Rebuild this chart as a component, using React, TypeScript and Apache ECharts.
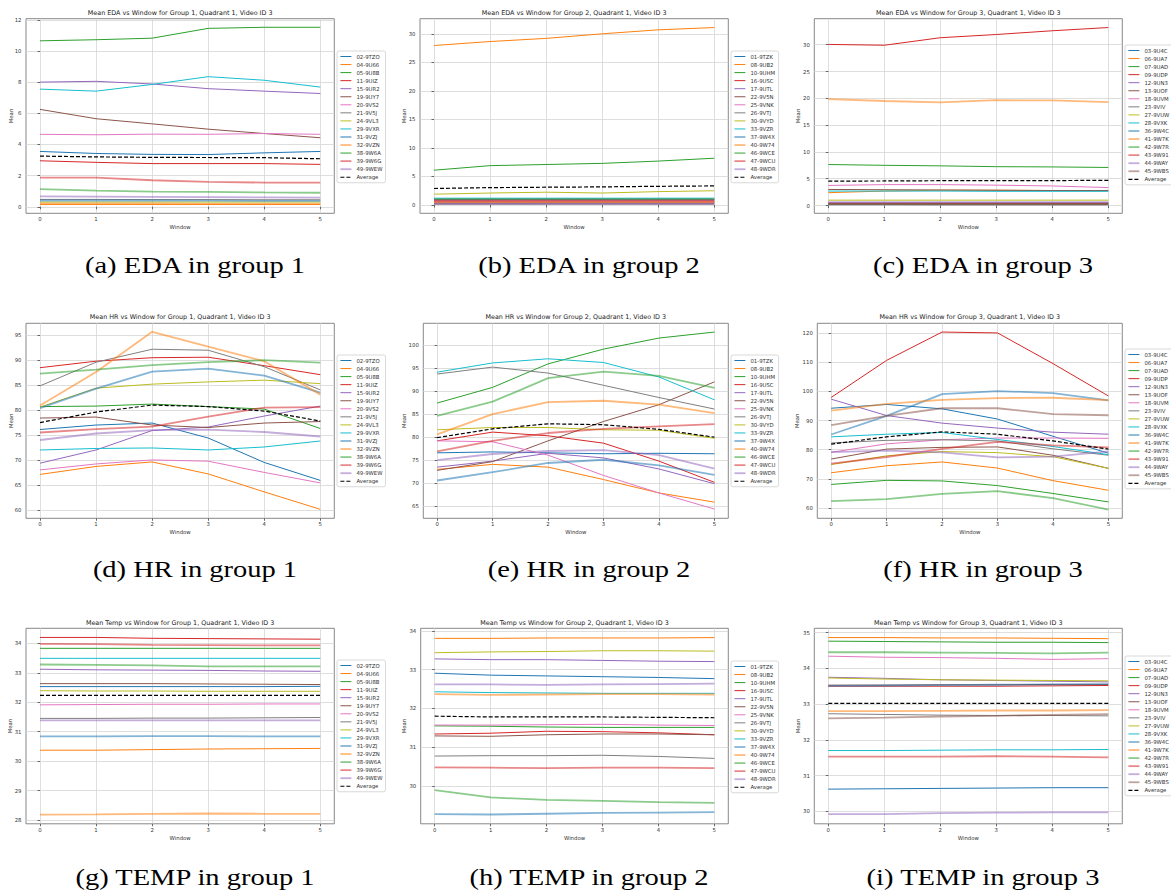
import React, { useEffect, useRef } from "react";
import * as echarts from "echarts";

const windows = [0, 1, 2, 3, 4, 5];

const group1Ids = ["02-9TZO", "04-9U66", "05-9U8B", "11-9UIZ", "15-9UR2", "19-9UY7", "20-9VS2", "21-9V5J", "24-9VL3", "29-9VXR", "31-9VZJ", "32-9VZN", "38-9W6A", "39-9W6G", "49-9WEW"];
const group2Ids = ["01-9TZK", "08-9UB2", "10-9UHM", "16-9USC", "17-9UTL", "22-9V5N", "25-9VNK", "26-9VTJ", "30-9VYD", "33-9VZR", "37-9W4X", "40-9W74", "46-9WCE", "47-9WCU", "48-9WDR"];
const group3Ids = ["03-9U4C", "06-9UA7", "07-9UAD", "09-9UDP", "12-9UN3", "13-9UOF", "18-9UVM", "23-9VIV", "27-9VUW", "28-9VXK", "36-9W4C", "41-9W7K", "42-9W7R", "43-9W91", "44-9WAY", "45-9WBS"];

// ---- EDA ----
const edaGroup1 = [
  [3.55, 3.42, 3.36, 3.35, 3.46, 3.55],
  [0.15, 0.15, 0.15, 0.15, 0.15, 0.15],
  [10.65, 10.72, 10.82, 11.45, 11.52, 11.52],
  [2.95, 2.85, 2.77, 2.77, 2.77, 2.72],
  [8.0, 8.05, 7.88, 7.58, 7.42, 7.27],
  [6.25, 5.65, 5.32, 4.98, 4.7, 4.43],
  [4.65, 4.62, 4.66, 4.65, 4.7, 4.65],
  [0.47, 0.47, 0.46, 0.46, 0.45, 0.45],
  [0.3, 0.3, 0.3, 0.3, 0.3, 0.3],
  [7.55, 7.42, 7.85, 8.35, 8.12, 7.68],
  [0.4, 0.4, 0.4, 0.39, 0.38, 0.38],
  [0.2, 0.2, 0.2, 0.19, 0.19, 0.19],
  [1.13, 1.03, 0.97, 0.95, 0.92, 0.9],
  [1.87, 1.87, 1.7, 1.6, 1.55, 1.55],
  [0.67, 0.65, 0.63, 0.62, 0.6, 0.58],
];
const edaGroup1Avg = [3.25, 3.2, 3.17, 3.16, 3.15, 3.08];

const edaGroup2 = [
  [0.9, 0.9, 0.88, 0.88, 0.87, 0.87],
  [27.95, 28.65, 29.2, 30.0, 30.7, 31.1],
  [6.1, 6.9, 7.1, 7.3, 7.7, 8.2],
  [0.6, 0.6, 0.58, 0.58, 0.57, 0.57],
  [0.4, 0.4, 0.4, 0.4, 0.4, 0.4],
  [0.3, 0.3, 0.3, 0.3, 0.3, 0.3],
  [0.7, 0.7, 0.7, 0.7, 0.7, 0.7],
  [0.15, 0.15, 0.15, 0.15, 0.15, 0.15],
  [1.9, 2.1, 2.25, 2.1, 2.35, 2.5],
  [1.2, 1.2, 1.2, 1.2, 1.2, 1.2],
  [0.95, 0.97, 0.98, 1.0, 1.0, 1.0],
  [0.5, 0.5, 0.5, 0.5, 0.5, 0.5],
  [1.05, 1.05, 1.05, 1.05, 1.05, 1.05],
  [0.8, 0.8, 0.8, 0.8, 0.8, 0.8],
  [0.2, 0.2, 0.2, 0.2, 0.2, 0.2],
];
const edaGroup2Avg = [2.9, 3.05, 3.12, 3.18, 3.28, 3.35];

const edaGroup3 = [
  [0.3, 0.3, 0.3, 0.3, 0.3, 0.3],
  [2.4, 2.7, 2.85, 2.85, 2.8, 2.75],
  [7.65, 7.5, 7.4, 7.25, 7.2, 7.1],
  [30.05, 29.9, 31.3, 31.9, 32.6, 33.2],
  [0.5, 0.5, 0.5, 0.5, 0.5, 0.5],
  [3.0, 2.95, 2.9, 2.85, 2.8, 2.8],
  [3.75, 3.9, 3.9, 3.8, 3.65, 3.35],
  [0.4, 0.4, 0.4, 0.4, 0.4, 0.4],
  [1.0, 1.0, 1.0, 1.0, 1.0, 1.0],
  [2.7, 2.7, 2.7, 2.65, 2.65, 2.65],
  [0.2, 0.2, 0.2, 0.2, 0.2, 0.2],
  [19.85, 19.5, 19.25, 19.65, 19.6, 19.3],
  [0.25, 0.25, 0.25, 0.25, 0.25, 0.25],
  [0.35, 0.35, 0.35, 0.35, 0.35, 0.35],
  [0.65, 0.65, 0.65, 0.65, 0.65, 0.65],
  [0.2, 0.2, 0.18, 0.17, 0.16, 0.15],
];
const edaGroup3Avg = [4.55, 4.58, 4.63, 4.65, 4.65, 4.7];

// ---- HR ----
const hrGroup1 = [
  [76.1, 77.0, 77.4, 74.4, 69.5, 65.9],
  [67.1, 68.7, 69.6, 67.2, 63.6, 60.1],
  [80.7, 80.8, 81.2, 80.7, 80.2, 76.3],
  [88.5, 89.8, 90.5, 90.6, 88.9, 87.1],
  [69.35, 72.0, 75.9, 76.6, 78.8, 80.8],
  [78.4, 78.6, 77.0, 76.5, 77.4, 77.7],
  [68.0, 69.2, 70.0, 69.75, 67.5, 65.4],
  [84.85, 89.6, 92.2, 92.0, 88.7, 84.05],
  [80.6, 84.4, 85.2, 85.65, 86.0, 85.3],
  [72.0, 72.3, 72.4, 72.0, 72.6, 73.8],
  [80.4, 84.3, 87.7, 88.3, 86.9, 83.5],
  [80.9, 87.65, 95.7, 92.7, 89.8, 83.1],
  [87.3, 88.1, 89.0, 89.6, 90.0, 89.5],
  [75.5, 76.2, 76.7, 78.7, 80.5, 80.6],
  [74.0, 75.3, 76.0, 76.1, 75.6, 74.7],
];
const hrGroup1Avg = [77.5, 79.6, 81.0, 80.7, 79.8, 77.8];

const hrGroup2 = [
  [76.6, 76.8, 76.6, 76.4, 76.5, 76.4],
  [73.0, 74.1, 73.5, 70.8, 67.9, 65.9],
  [87.4, 90.8, 95.9, 99.1, 101.5, 102.8],
  [79.2, 81.1, 80.3, 78.7, 74.8, 70.2],
  [73.5, 74.8, 76.5, 75.5, 73.1, 69.9],
  [72.8, 74.7, 79.2, 83.4, 87.05, 92.0],
  [79.2, 79.0, 76.1, 71.7, 67.9, 64.4],
  [93.7, 95.2, 93.9, 91.25, 88.6, 86.1],
  [81.6, 82.1, 82.1, 81.6, 81.5, 79.75],
  [94.1, 96.1, 97.0, 96.2, 93.05, 88.1],
  [70.6, 72.4, 74.4, 75.1, 73.9, 71.8],
  [80.6, 85.0, 87.6, 87.9, 87.05, 85.2],
  [84.6, 87.7, 92.8, 94.2, 93.3, 90.7],
  [76.9, 79.2, 80.9, 81.8, 82.35, 82.85],
  [75.0, 76.35, 77.0, 77.2, 76.1, 73.2],
];
const hrGroup2Avg = [79.9, 81.8, 82.9, 82.7, 81.7, 80.0];

const hrGroup3 = [
  [94.2, 95.5, 94.0, 90.5, 84.6, 78.8],
  [72.1, 74.5, 75.8, 73.7, 69.4, 66.1],
  [68.1, 69.5, 69.3, 67.7, 65.0, 62.1],
  [97.9, 110.6, 120.3, 120.0, 109.5, 98.4],
  [97.3, 91.7, 89.1, 87.4, 86.0, 85.3],
  [76.8, 80.2, 80.8, 80.95, 78.1, 73.6],
  [79.1, 82.0, 83.4, 84.0, 84.0, 83.9],
  [82.3, 83.2, 83.4, 83.0, 80.3, 78.1],
  [74.9, 77.9, 79.35, 79.0, 77.6, 73.6],
  [84.4, 85.3, 85.9, 83.5, 81.1, 78.3],
  [85.2, 91.6, 99.05, 100.1, 99.4, 96.9],
  [93.4, 95.7, 97.1, 97.7, 97.8, 97.0],
  [62.4, 63.1, 64.9, 65.8, 63.4, 59.5],
  [75.2, 77.5, 80.3, 82.7, 81.5, 80.8],
  [79.2, 79.7, 79.1, 77.4, 77.6, 79.4],
  [88.4, 91.6, 94.2, 94.2, 92.2, 91.8],
];
const hrGroup3Avg = [81.9, 84.4, 86.1, 85.3, 83.0, 80.2];

// ---- Temp ----
const tempGroup1 = [
  [32.53, 32.53, 32.53, 32.53, 32.53, 32.54],
  [30.37, 30.37, 30.39, 30.41, 30.42, 30.43],
  [33.83, 33.83, 33.83, 33.83, 33.83, 33.83],
  [34.2, 34.2, 34.17, 34.16, 34.15, 34.14],
  [33.12, 33.1, 33.09, 33.08, 33.06, 33.05],
  [32.63, 32.63, 32.63, 32.62, 32.61, 32.6],
  [31.91, 31.92, 31.93, 31.93, 31.94, 31.94],
  [31.45, 31.45, 31.46, 31.46, 31.47, 31.48],
  [32.39, 32.38, 32.38, 32.37, 32.37, 32.37],
  [33.49, 33.49, 33.49, 33.49, 33.49, 33.49],
  [30.84, 30.84, 30.85, 30.85, 30.84, 30.84],
  [28.18, 28.19, 28.21, 28.22, 28.21, 28.21],
  [33.28, 33.27, 33.25, 33.22, 33.22, 33.22],
  [33.98, 33.97, 33.95, 33.94, 33.93, 33.93],
  [31.38, 31.38, 31.38, 31.38, 31.38, 31.38],
];
const tempGroup1Avg = [32.23, 32.23, 32.23, 32.23, 32.23, 32.23];

const tempGroup2 = [
  [32.91, 32.86, 32.84, 32.82, 32.8, 32.77],
  [33.81, 33.81, 33.82, 33.82, 33.82, 33.83],
  [31.55, 31.54, 31.52, 31.51, 31.51, 31.51],
  [31.34, 31.36, 31.41, 31.4, 31.37, 31.32],
  [33.28, 33.26, 33.26, 33.24, 33.22, 33.21],
  [31.29, 31.28, 31.32, 31.34, 31.34, 31.32],
  [31.57, 31.57, 31.58, 31.59, 31.57, 31.56],
  [30.77, 30.78, 30.78, 30.79, 30.76, 30.71],
  [33.44, 33.46, 33.47, 33.49, 33.49, 33.48],
  [32.43, 32.41, 32.4, 32.39, 32.39, 32.39],
  [29.27, 29.26, 29.28, 29.3, 29.31, 29.32],
  [32.37, 32.35, 32.36, 32.37, 32.37, 32.36],
  [29.89, 29.7, 29.64, 29.61, 29.58, 29.56],
  [30.48, 30.47, 30.46, 30.47, 30.47, 30.46],
  [32.62, 32.62, 32.61, 32.62, 32.63, 32.64],
];
const tempGroup2Avg = [31.8, 31.78, 31.78, 31.78, 31.77, 31.76];

const tempGroup3 = [
  [30.62, 30.63, 30.64, 30.65, 30.66, 30.66],
  [34.86, 34.86, 34.85, 34.85, 34.84, 34.83],
  [34.76, 34.75, 34.74, 34.73, 34.73, 34.72],
  [33.5, 33.5, 33.5, 33.5, 33.51, 33.52],
  [33.75, 33.72, 33.68, 33.66, 33.64, 33.62],
  [33.53, 33.53, 33.54, 33.54, 33.55, 33.55],
  [34.34, 34.31, 34.3, 34.28, 34.25, 34.27],
  [32.73, 32.71, 32.69, 32.68, 32.68, 32.67],
  [33.73, 33.7, 33.68, 33.67, 33.66, 33.65],
  [31.7, 31.7, 31.71, 31.72, 31.72, 31.73],
  [33.51, 33.52, 33.53, 33.54, 33.55, 33.56],
  [32.8, 32.8, 32.81, 32.82, 32.82, 32.83],
  [34.45, 34.45, 34.44, 34.43, 34.42, 34.44],
  [31.53, 31.53, 31.53, 31.54, 31.53, 31.51],
  [29.92, 29.92, 29.95, 29.96, 29.97, 29.97],
  [32.6, 32.62, 32.65, 32.67, 32.7, 32.72],
];
const tempGroup3Avg = [33.02, 33.02, 33.02, 33.02, 33.02, 33.02];

// tick labels
const xTicks = [0, 1, 2, 3, 4, 5];
const yTicksEda1 = [0, 2, 4, 6, 8, 10, 12];
const yTicksEda23 = [0, 5, 10, 15, 20, 25, 30];
const yTicksHr1 = [60, 65, 70, 75, 80, 85, 90, 95];
const yTicksHr2 = [65, 70, 75, 80, 85, 90, 95, 100];
const yTicksHr3 = [60, 70, 80, 90, 100, 110, 120];
const yTicksTemp1 = [28, 29, 30, 31, 32, 33, 34];
const yTicksTemp2 = [30, 31, 32, 33, 34];
const yTicksTemp3 = [30, 31, 32, 33, 34, 35];

const captions = [
  "(a) EDA in group 1", "(b) EDA in group 2", "(c) EDA in group 3",
  "(d) HR in group 1", "(e) HR in group 2", "(f) HR in group 3",
  "(g) TEMP in group 1", "(h) TEMP in group 2", "(i) TEMP in group 3",
];

// ---- styling / layout ----
const TAB10 = ["#1f77b4", "#ff7f0e", "#2ca02c", "#d62728", "#9467bd", "#8c564b", "#e377c2", "#7f7f7f", "#bcbd22", "#17becf"];
const FONT = "DejaVu Sans";
const TEXT = "#333333";

const rows = [
  { top: 18.7, bottom: 213.3, titleY: 13, xNameY: 227, captionY: 265 },
  { top: 323.3, bottom: 518.3, titleY: 316.5, xNameY: 531.5, captionY: 569 },
  { top: 628.3, bottom: 823.8, titleY: 623, xNameY: 838, captionY: 877 },
];
const plotLeft = [[26, 420, 814.3], [26, 423.3, 817.3], [26, 420.7, 814.3]];
const plotRight = [334.3, 728.3, 1122.3];
const yNameX = [[11, 404.3, 798.3], [11, 404, 797.3], [10, 404.3, 798.3]];
const legendLeft = [337, 731, 1125];
const legendTop = [[51, 51, 45], [355, 355, 349], [660, 661, 656]];
const captionX = [195, 589, 983];

type Panel = {
  metric: string; group: number; ids: string[]; values: number[][]; avg: number[];
  yMin: number; yMax: number; yTicks: number[];
};

const panels: Panel[] = [
  { metric: "EDA", group: 1, ids: group1Ids, values: edaGroup1, avg: edaGroup1Avg, yMin: -0.42, yMax: 12.07, yTicks: yTicksEda1 },
  { metric: "EDA", group: 2, ids: group2Ids, values: edaGroup2, avg: edaGroup2Avg, yMin: -1.45, yMax: 32.65, yTicks: yTicksEda23 },
  { metric: "EDA", group: 3, ids: group3Ids, values: edaGroup3, avg: edaGroup3Avg, yMin: -1.45, yMax: 34.85, yTicks: yTicksEda23 },
  { metric: "HR", group: 1, ids: group1Ids, values: hrGroup1, avg: hrGroup1Avg, yMin: 58.3, yMax: 97.4, yTicks: yTicksHr1 },
  { metric: "HR", group: 2, ids: group2Ids, values: hrGroup2, avg: hrGroup2Avg, yMin: 62.4, yMax: 104.7, yTicks: yTicksHr2 },
  { metric: "HR", group: 3, ids: group3Ids, values: hrGroup3, avg: hrGroup3Avg, yMin: 56.5, yMax: 123.3, yTicks: yTicksHr3 },
  { metric: "Temp", group: 1, ids: group1Ids, values: tempGroup1, avg: tempGroup1Avg, yMin: 27.87, yMax: 34.51, yTicks: yTicksTemp1 },
  { metric: "Temp", group: 2, ids: group2Ids, values: tempGroup2, avg: tempGroup2Avg, yMin: 29.02, yMax: 34.07, yTicks: yTicksTemp2 },
  { metric: "Temp", group: 3, ids: group3Ids, values: tempGroup3, avg: tempGroup3Avg, yMin: 29.65, yMax: 35.12, yTicks: yTicksTemp3 },
];

function buildOption() {
  const grid: any[] = [];
  const xAxis: any[] = [];
  const yAxis: any[] = [];
  const legend: any[] = [];
  const series: any[] = [];
  const elements: any[] = [];

  panels.forEach((p, idx) => {
    const r = Math.floor(idx / 3);
    const c = idx % 3;
    const row = rows[r];
    const left = plotLeft[r][c];
    const right = plotRight[c];
    const width = right - left;
    const height = row.bottom - row.top;
    const cx = (left + right) / 2;
    const cy = (row.top + row.bottom) / 2;

    grid.push({
      left, top: row.top, width, height,
      show: true, borderColor: "#7a7a7a", borderWidth: 0.9, backgroundColor: "#ffffff",
      containLabel: false, outerBoundsMode: "none",
    });

    xAxis.push({
      type: "value", gridIndex: idx, min: -0.25, max: 5.25,
      axisLine: { show: false },
      axisTick: { show: true, length: 2.5, lineStyle: { color: "#444", width: 0.8 }, customValues: xTicks },
      axisLabel: { show: true, customValues: xTicks, fontSize: 5.35, color: TEXT, fontFamily: FONT, margin: 3.5, formatter: (v: number) => String(v) },
      splitLine: { show: true, lineStyle: { color: "#d6d6d6", width: 0.8 } },
    });
    yAxis.push({
      type: "value", gridIndex: idx, min: p.yMin, max: p.yMax,
      axisLine: { show: false },
      axisTick: { show: true, length: 2.5, lineStyle: { color: "#444", width: 0.8 }, customValues: p.yTicks },
      axisLabel: { show: true, customValues: p.yTicks, fontSize: 5.35, color: TEXT, fontFamily: FONT, margin: 4.5, formatter: (v: number) => String(v) },
      splitLine: { show: true, lineStyle: { color: "#d6d6d6", width: 0.8 } },
    });

    p.ids.forEach((id, i) => {
      const second = i >= 10;
      const color = TAB10[i % 10];
      series.push({
        type: "line", name: id, xAxisIndex: idx, yAxisIndex: idx,
        data: windows.map((w, j) => [w, p.values[i][j]]),
        symbol: "none", color,
        lineStyle: { color, width: second ? 1.8 : 1, opacity: second ? 0.55 : 1 },
        itemStyle: { color, opacity: second ? 0.55 : 1 },
        emphasis: { disabled: true }, silent: true,
      });
    });
    series.push({
      type: "line", name: "Average", xAxisIndex: idx, yAxisIndex: idx,
      data: windows.map((w, j) => [w, p.avg[j]]),
      symbol: "none", color: "#000",
      lineStyle: { color: "#000", width: 1.2, type: [4, 2] },
      itemStyle: { color: "#000" },
      emphasis: { disabled: true }, silent: true, z: 3,
    });

    const legendData = [
      ...p.ids.map((id, i) => ({ name: id, lineStyle: { width: i >= 10 ? 1.8 : 1 } })),
      { name: "Average", lineStyle: { width: 1.2 } },
    ];
    legend.push({
      data: legendData,
      orient: "vertical", left: legendLeft[c], top: legendTop[r][c],
      itemWidth: 11, itemHeight: 6, itemGap: 2.05,
      padding: [2.5, 3, 2.5, 2.5],
      borderColor: "#cfcfcf", borderWidth: 0.8, borderRadius: 2, backgroundColor: "#ffffff",
      itemStyle: { color: "rgba(0,0,0,0)", borderWidth: 0, opacity: 0 },
      textStyle: { fontSize: 5.35, lineHeight: 6, color: TEXT, fontFamily: FONT },
      selectedMode: false,
    });

    const title = `Mean ${p.metric} vs Window for Group ${p.group}, Quadrant 1, Video ID 3`;
    elements.push({
      type: "text", x: cx, y: row.titleY, silent: true,
      style: { text: title, fontSize: 6.4, fontFamily: FONT, fill: "#222", align: "center", verticalAlign: "middle", textAlign: "center", textVerticalAlign: "middle" },
    });
    elements.push({
      type: "text", x: cx, y: row.xNameY, silent: true,
      style: { text: "Window", fontSize: 5.35, fontFamily: FONT, fill: TEXT, align: "center", verticalAlign: "middle", textAlign: "center", textVerticalAlign: "middle" },
    });
    elements.push({
      type: "text", x: yNameX[r][c], y: cy, rotation: Math.PI / 2, silent: true,
      style: { text: "Mean", fontSize: 5.35, fontFamily: FONT, fill: TEXT, align: "center", verticalAlign: "middle", textAlign: "center", textVerticalAlign: "middle" },
    });
    elements.push({
      type: "text", x: captionX[c], y: row.captionY, scaleX: 1.24, silent: true,
      style: { text: captions[idx], fontSize: 23, fontFamily: "Liberation Serif", fill: "#000", align: "center", verticalAlign: "middle", textAlign: "center", textVerticalAlign: "middle" },
    });
  });

  return {
    animation: false,
    backgroundColor: "#ffffff",
    textStyle: { fontFamily: FONT },
    grid, xAxis, yAxis, legend, series,
    graphic: { elements },
  };
}

export default function App() {
  const ref = useRef<HTMLDivElement>(null);
  useEffect(() => {
    if (!ref.current) return;
    const chart = echarts.init(ref.current, undefined, { renderer: "svg" });
    chart.setOption(buildOption() as any);
    return () => {
      chart.dispose();
    };
  }, []);
  return (
    <div
      ref={ref}
      style={{ position: "absolute", left: 0, top: 0, width: 1171, height: 893, background: "#ffffff" }}
    />
  );
}
